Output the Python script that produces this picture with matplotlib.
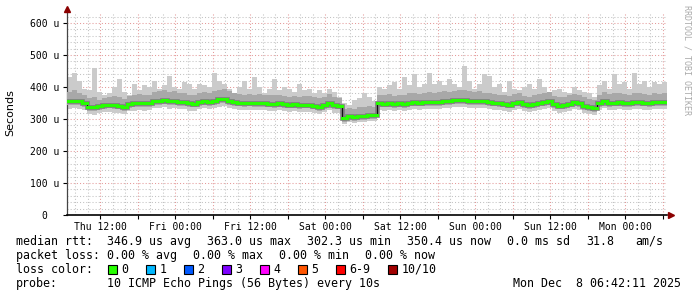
import matplotlib
matplotlib.use("Agg")
import matplotlib.pyplot as plt
import matplotlib.dates as mdates
from matplotlib.patches import Rectangle
import numpy as np
from datetime import datetime, timedelta

# ---------------- data (microseconds, 48-minute steps) ----------------
start_time = datetime(2025, 12, 4, 6, 42, 11)
step_minutes = 48

median_us = [355, 356, 355, 350, 338, 336, 340, 344, 345, 343, 342, 337, 346, 349, 350, 349, 350,
             356, 357, 360, 355, 356, 354, 353, 349, 348, 354, 355, 354, 357, 362, 363, 357, 352,
             351, 350, 351, 349, 350, 349, 348, 347, 349, 346, 345, 346, 344, 345, 345, 342, 338,
             344, 350, 343, 342, 302, 308, 307, 309, 310, 311, 312, 349, 348, 350, 347, 349, 346,
             351, 352, 351, 353, 352, 352, 354, 356, 355, 358, 360, 358, 357, 356, 357, 355, 353,
             351, 350, 348, 345, 351, 352, 346, 344, 347, 351, 352, 357, 346, 342, 343, 348, 352,
             350, 341, 337, 334, 349, 356, 350, 351, 352, 350, 350, 352, 353, 351, 350, 352, 352, 354]

smoke_top = [430, 445, 420, 395, 390, 460, 385, 375, 380, 400, 425, 385, 375, 410, 390, 405, 400,
             420, 395, 405, 435, 400, 395, 415, 410, 395, 410, 405, 400, 445, 420, 410, 395, 380,
             400, 420, 395, 430, 400, 380, 395, 425, 390, 400, 395, 385, 410, 390, 395, 380, 390,
             380, 395, 385, 370, 350, 345, 360, 365, 380, 370, 355, 400, 395, 405, 415, 395, 430,
             405, 440, 400, 410, 445, 410, 420, 405, 425, 410, 400, 465, 420, 395, 410, 440, 435,
             400, 410, 385, 420, 395, 390, 400, 410, 395, 425, 400, 385, 390, 395, 385, 380, 400,
             390, 385, 380, 370, 405, 420, 395, 440, 410, 415, 395, 445, 410, 420, 400, 415, 410, 415]

smoke_upper = [385, 390, 380, 375, 365, 370, 360, 365, 370, 372, 368, 362, 372, 375, 378, 374, 376,
               385, 388, 392, 384, 386, 380, 382, 375, 374, 380, 384, 382, 386, 392, 395, 388, 380,
               378, 376, 378, 376, 378, 375, 374, 375, 376, 372, 370, 372, 370, 371, 372, 368, 364,
               370, 378, 370, 366, 330, 334, 332, 336, 338, 340, 338, 375, 374, 378, 372, 376, 374,
               380, 382, 378, 380, 384, 382, 384, 386, 384, 388, 392, 390, 386, 384, 386, 382, 380,
               378, 376, 374, 372, 378, 380, 372, 370, 374, 378, 380, 384, 372, 368, 370, 374, 378,
               376, 368, 362, 360, 376, 384, 378, 380, 380, 378, 376, 380, 380, 378, 376, 380, 378, 382]

smoke_lower = [343, 344, 343, 338, 326, 324, 328, 332, 333, 331, 330, 325, 334, 337, 338, 337, 338,
               344, 345, 348, 343, 344, 342, 341, 337, 336, 342, 343, 342, 345, 350, 351, 345, 340,
               339, 338, 339, 337, 338, 337, 336, 335, 337, 334, 333, 334, 332, 333, 333, 330, 326,
               332, 338, 331, 330, 291, 296, 295, 297, 298, 299, 300, 337, 336, 338, 335, 337, 334,
               339, 340, 339, 341, 340, 340, 342, 344, 343, 346, 348, 346, 345, 344, 345, 343, 341,
               339, 338, 336, 333, 339, 340, 334, 332, 335, 339, 340, 345, 334, 330, 331, 336, 340,
               338, 329, 325, 322, 337, 344, 338, 339, 340, 338, 338, 340, 341, 339, 338, 340, 340, 342]

smoke_bottom = [332, 334, 332, 328, 315, 312, 318, 322, 322, 320, 320, 314, 324, 326, 328, 326, 328,
                334, 335, 336, 332, 334, 332, 330, 326, 326, 332, 333, 332, 335, 338, 340, 334, 330,
                329, 328, 329, 327, 328, 327, 326, 325, 327, 324, 323, 324, 322, 323, 323, 320, 315,
                322, 328, 320, 318, 285, 290, 288, 290, 292, 293, 294, 327, 326, 328, 325, 327, 324,
                329, 330, 329, 331, 330, 330, 332, 334, 333, 336, 338, 336, 335, 334, 335, 333, 331,
                329, 328, 326, 323, 329, 330, 324, 322, 325, 329, 330, 335, 324, 320, 321, 326, 330,
                328, 318, 314, 312, 327, 334, 328, 329, 330, 328, 328, 330, 331, 329, 328, 330, 330, 332]

y_ticks = [0, 100, 200, 300, 400, 500, 600]
y_tick_labels = ["0  ", "100 u", "200 u", "300 u", "400 u", "500 u", "600 u"]

rtt_label = "median rtt:"
rtt_items = ["346.9 us avg", "363.0 us max", "302.3 us min", "350.4 us now", "0.0 ms sd", "31.8", "am/s"]
loss_label = "packet loss:"
loss_items = ["0.00 % avg", "0.00 % max", "0.00 % min", "0.00 % now"]
color_label = "loss color:"
loss_labels = ["0", "1", "2", "3", "4", "5", "6-9", "10/10"]
loss_colors = ["#26ff00", "#00b8ff", "#0059ff", "#7e00ff", "#ff00fe", "#ff5500", "#ff0000", "#a10000"]
probe_label = "probe:"
probe_text = "10 ICMP Echo Pings (56 Bytes) every 10s"
date_text = "Mon Dec  8 06:42:11 2025"

# ---------------- figure ----------------
W, H = 697, 297
fig = plt.figure(figsize=(W / 100, H / 100), dpi=100)
fig.patch.set_facecolor("white")

ax_l, ax_r, ax_t, ax_b = 67, 667, 13, 215
ax = fig.add_axes([ax_l / W, 1 - ax_b / H, (ax_r - ax_l) / W, (ax_b - ax_t) / H])
ax.set_facecolor("white")

n = len(median_us)
times = [start_time + timedelta(minutes=step_minutes * i) for i in range(n + 1)]
xt = mdates.date2num(times)

def ext(a):
    a = list(a)
    return np.array(a + [a[-1]], dtype=float)

ax.fill_between(xt, ext(smoke_bottom), ext(smoke_top), step="post", color="#cbcbcb", lw=0, zorder=2)
ax.fill_between(xt, ext(smoke_lower), ext(smoke_upper), step="post", color="#a8a8a8", lw=0, zorder=3)
ax.step(xt, ext(median_us), where="post", color="#7c7c7c", lw=3.3, zorder=4, solid_joinstyle="miter")
ax.step(xt, ext(median_us), where="post", color="#111111", lw=0.8, zorder=4.5)
ax.hlines(median_us, xt[:-1], xt[1:], color="#26ff00", lw=2.2, zorder=5, capstyle="projecting")

ax.set_xlim(xt[0], xt[-1])
ax.set_ylim(0, 631)

# grid
ax.xaxis.set_major_locator(mdates.HourLocator(byhour=[0, 6, 12, 18]))
ax.xaxis.set_minor_locator(mdates.HourLocator(interval=2))

def xfmt(v, pos):
    d = mdates.num2date(v)
    if d.hour in (0, 12) and d.minute == 0:
        return d.strftime("%a %H:%M")
    return ""

ax.xaxis.set_major_formatter(plt.FuncFormatter(xfmt))
ax.set_yticks(y_ticks)
ax.set_yticklabels(y_tick_labels)
ax.set_yticks(np.arange(0, 631, 20), minor=True)

ax.grid(which="minor", color="#c2c2c2", linestyle=(0, (1, 2)), lw=0.75, zorder=1)
ax.grid(which="major", color="#e49a9a", linestyle=(0, (1, 2)), lw=0.75, zorder=1.5)
ax.set_axisbelow(True)

mono = "DejaVu Sans Mono"
ax.tick_params(axis="both", which="major", direction="out", length=3, width=0.8,
               labelsize=7, pad=2)
ax.tick_params(axis="y", which="major", pad=2.5)
ax.tick_params(axis="both", which="minor", length=0)
for lab in ax.get_xticklabels() + ax.get_yticklabels():
    lab.set_fontfamily(mono)

for s in ("top", "right"):
    ax.spines[s].set_visible(False)
ax.spines["left"].set_color("#444444")
ax.spines["left"].set_linewidth(0.9)
ax.spines["bottom"].set_color("black")
ax.spines["bottom"].set_linewidth(1.2)

# arrows
ax.plot([0], [1.018], marker="^", color="#8b0000", ms=4.5, transform=ax.transAxes, clip_on=False, zorder=10)
ax.plot([1.006], [0], marker=">", color="#8b0000", ms=4.5, transform=ax.transAxes, clip_on=False, zorder=10)

# labels
fig.text(10 / W, 1 - 113 / H, "Seconds", rotation=90, ha="center", va="center",
         fontsize=8, family="DejaVu Sans")
fig.text(687 / W, 1 - 60 / H, "RRDTOOL / TOBI OETIKER", rotation=270, ha="center", va="center",
         fontsize=6, family=mono, color="#aaaaaa")

fs = 8.4
def px(x, y):
    return x / W, 1 - y / H

def put(x, y, s):
    fig.text(*px(x, y), s, ha="left", va="center", fontsize=fs, family=mono)

row_y = [241.5, 255.5, 269.5, 283.5]
put(16, row_y[0], rtt_label)
for x, s in zip([107, 207, 307, 407, 507, 586.5, 635], rtt_items):
    put(x, row_y[0], s)
put(16, row_y[1], loss_label)
for x, s in zip([107, 193, 279, 365], loss_items):
    put(x, row_y[1], s)
put(16, row_y[2], color_label)
put(16, row_y[3], probe_label)
put(107, row_y[3], probe_text)
put(513, row_y[3], date_text)

cw = 7.0
bx = 108.0
for lab, col in zip(loss_labels, loss_colors):
    x0, y0 = px(bx, 273.5)
    fig.patches.append(Rectangle((x0, y0), 9 / W, 9 / H, transform=fig.transFigure,
                                 facecolor=col, edgecolor="black", lw=0.8))
    put(bx + 13.5, row_y[2], lab)
    bx += 13.5 + cw * len(lab) + 17.5

fig.savefig("out.png", dpi=100, facecolor="white")
